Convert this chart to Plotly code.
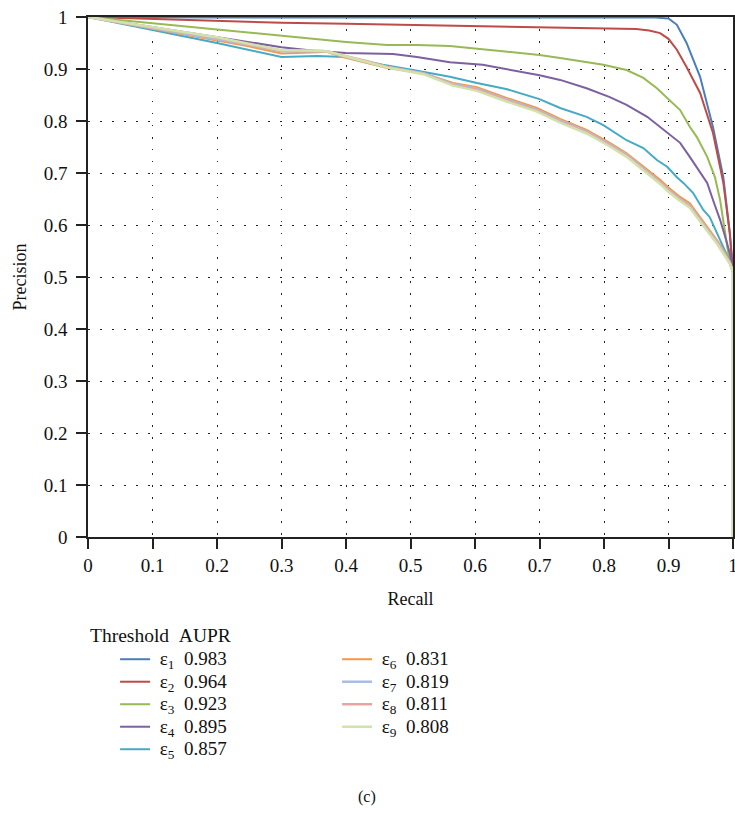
import plotly.graph_objects as go

# ---------------- data ----------------
labels = ["ε<sub>1</sub>\u20020.983", "ε<sub>2</sub>\u20020.964", "ε<sub>3</sub>\u20020.923",
          "ε<sub>4</sub>\u20020.895", "ε<sub>5</sub>\u20020.857", "ε<sub>6</sub>\u20020.831",
          "ε<sub>7</sub>\u20020.819", "ε<sub>8</sub>\u20020.811", "ε<sub>9</sub>\u20020.808"]

recall_e1 = [0, 0.1, 0.2, 0.3, 0.4, 0.5, 0.6, 0.7, 0.8, 0.88, 0.9, 0.913, 0.928, 0.949, 0.969, 0.985, 0.995, 1.0, 1.0]
precision_e1 = [1, 0.999, 0.999, 0.999, 0.999, 0.999, 0.999, 0.999, 0.999, 0.999, 0.997, 0.985, 0.95, 0.885, 0.788, 0.692, 0.585, 0.51, 0.0]

recall_e2 = [0, 0.1, 0.2, 0.3, 0.4, 0.5, 0.6, 0.7, 0.75, 0.8, 0.85, 0.87, 0.887, 0.9, 0.913, 0.928, 0.949, 0.969, 0.985, 0.995, 1.0, 1.0]
precision_e2 = [1, 0.996, 0.992, 0.989, 0.987, 0.985, 0.983, 0.981, 0.980, 0.979, 0.977, 0.974, 0.969, 0.958, 0.937, 0.904, 0.854, 0.777, 0.681, 0.585, 0.51, 0.0]

recall_e3 = [0, 0.1, 0.2, 0.251, 0.298, 0.35, 0.40, 0.464, 0.51, 0.561, 0.639, 0.7, 0.732, 0.77, 0.799, 0.835, 0.861, 0.882, 0.898, 0.918, 0.933, 0.944, 0.96, 0.972, 0.98, 0.988, 0.995, 1.0, 1.0]
precision_e3 = [1, 0.988, 0.976, 0.969, 0.963, 0.957, 0.952, 0.946, 0.946, 0.944, 0.935, 0.927, 0.921, 0.914, 0.908, 0.898, 0.883, 0.863, 0.844, 0.821, 0.789, 0.769, 0.731, 0.692, 0.648, 0.585, 0.527, 0.51, 0.0]

recall_e4 = [0, 0.1, 0.2, 0.251, 0.3, 0.35, 0.40, 0.473, 0.51, 0.561, 0.612, 0.639, 0.7, 0.732, 0.773, 0.809, 0.835, 0.867, 0.887, 0.899, 0.918, 0.933, 0.946, 0.96, 0.969, 0.98, 0.988, 0.995, 1.0, 1.0]
precision_e4 = [1, 0.981, 0.962, 0.952, 0.942, 0.935, 0.931, 0.929, 0.923, 0.913, 0.908, 0.902, 0.888, 0.879, 0.863, 0.846, 0.831, 0.808, 0.789, 0.777, 0.758, 0.731, 0.706, 0.681, 0.648, 0.61, 0.577, 0.546, 0.51, 0.0]

recall_e5 = [0, 0.1, 0.2, 0.3, 0.355, 0.40, 0.457, 0.504, 0.561, 0.603, 0.65, 0.7, 0.732, 0.773, 0.799, 0.835, 0.861, 0.882, 0.898, 0.913, 0.923, 0.938, 0.954, 0.964, 0.975, 0.985, 0.995, 1.0, 1.0]
precision_e5 = [1, 0.975, 0.950, 0.923, 0.925, 0.923, 0.908, 0.898, 0.885, 0.873, 0.861, 0.842, 0.825, 0.808, 0.792, 0.763, 0.748, 0.725, 0.712, 0.692, 0.681, 0.662, 0.629, 0.615, 0.585, 0.558, 0.53, 0.51, 0.0]

recall_e6 = [0, 0.1, 0.2, 0.251, 0.3, 0.355, 0.37, 0.395, 0.43, 0.464, 0.52, 0.566, 0.603, 0.65, 0.696, 0.732, 0.773, 0.809, 0.835, 0.861, 0.887, 0.899, 0.918, 0.933, 0.949, 0.964, 0.975, 0.985, 0.995, 1.0, 1.0]
precision_e6 = [1, 0.978, 0.955, 0.943, 0.930, 0.932, 0.933, 0.923, 0.913, 0.902, 0.892, 0.873, 0.865, 0.844, 0.825, 0.804, 0.783, 0.758, 0.738, 0.712, 0.687, 0.673, 0.654, 0.642, 0.615, 0.590, 0.571, 0.552, 0.53, 0.51, 0.0]

recall_e7 = [0, 0.1, 0.2, 0.251, 0.3, 0.355, 0.37, 0.395, 0.43, 0.464, 0.52, 0.566, 0.603, 0.65, 0.696, 0.732, 0.773, 0.809, 0.835, 0.861, 0.887, 0.899, 0.918, 0.933, 0.949, 0.964, 0.975, 0.985, 0.995, 1.0, 1.0]
precision_e7 = [1, 0.979, 0.958, 0.946, 0.934, 0.934, 0.934, 0.925, 0.915, 0.904, 0.892, 0.871, 0.862, 0.841, 0.822, 0.801, 0.780, 0.755, 0.735, 0.709, 0.683, 0.669, 0.650, 0.637, 0.611, 0.586, 0.568, 0.549, 0.528, 0.51, 0.0]

recall_e8 = [0, 0.1, 0.2, 0.251, 0.3, 0.355, 0.37, 0.395, 0.43, 0.464, 0.52, 0.566, 0.603, 0.65, 0.696, 0.732, 0.773, 0.809, 0.835, 0.861, 0.887, 0.899, 0.918, 0.933, 0.949, 0.964, 0.975, 0.985, 0.995, 1.0, 1.0]
precision_e8 = [1, 0.980, 0.960, 0.947, 0.935, 0.935, 0.934, 0.926, 0.916, 0.904, 0.891, 0.869, 0.860, 0.839, 0.820, 0.799, 0.778, 0.753, 0.733, 0.707, 0.681, 0.667, 0.648, 0.635, 0.609, 0.584, 0.566, 0.547, 0.527, 0.51, 0.0]

recall_e9 = [0, 0.1, 0.2, 0.251, 0.3, 0.355, 0.37, 0.395, 0.43, 0.464, 0.52, 0.566, 0.603, 0.65, 0.696, 0.732, 0.773, 0.809, 0.835, 0.861, 0.887, 0.899, 0.918, 0.933, 0.949, 0.964, 0.975, 0.985, 0.995, 1.0, 1.0]
precision_e9 = [1, 0.980, 0.961, 0.948, 0.936, 0.935, 0.934, 0.926, 0.915, 0.903, 0.890, 0.868, 0.858, 0.837, 0.818, 0.797, 0.776, 0.751, 0.731, 0.705, 0.679, 0.665, 0.646, 0.633, 0.607, 0.582, 0.564, 0.545, 0.526, 0.51, 0.0]

tick_vals = [0, 0.1, 0.2, 0.3, 0.4, 0.5, 0.6, 0.7, 0.8, 0.9, 1]
tick_text = ["0", "0.1", "0.2", "0.3", "0.4", "0.5", "0.6", "0.7", "0.8", "0.9", "1"]

# ---------------- styling ----------------
colors = ["#4a7ebb", "#be4b48", "#98b954", "#7d60a0", "#46aac5",
          "#f79646", "#a9bfe0", "#eaa3a3", "#d2e2ab"]
widths = [2, 2, 2, 2, 2, 2, 2.5, 2.5, 2.5]
legend_rank = [1, 3, 5, 7, 9, 2, 4, 6, 8]

recalls = [recall_e1, recall_e2, recall_e3, recall_e4, recall_e5,
           recall_e6, recall_e7, recall_e8, recall_e9]
precisions = [precision_e1, precision_e2, precision_e3, precision_e4, precision_e5,
              precision_e6, precision_e7, precision_e8, precision_e9]

FONT = "Liberation Serif"
TXT = "#111"

fig = go.Figure()
for i in range(9):
    fig.add_trace(go.Scatter(
        x=recalls[i], y=precisions[i], mode="lines",
        name='<span style="font-size:19px">\u2005' + labels[i] + '</span>',
        line=dict(color=colors[i], width=widths[i]),
        legendrank=legend_rank[i],
    ))

axis_common = dict(
    range=[0, 1], tickvals=tick_vals, ticktext=tick_text,
    showline=True, linecolor="#222", linewidth=1.5, mirror=True,
    ticks="outside", ticklen=10, tickwidth=1.5, tickcolor="#222",
    showgrid=True, gridcolor="#222", gridwidth=1, griddash="1.5px,10.5px",
    zeroline=False, tickfont=dict(family=FONT, size=19, color=TXT),
    automargin=False, ticklabeloverflow="allow",
)

fig.update_xaxes(**axis_common,
                 title=dict(text="Recall", font=dict(family=FONT, size=18, color=TXT), standoff=18))
fig.update_yaxes(**axis_common, ticklabelstandoff=5,
                 title=dict(text="Precision", font=dict(family=FONT, size=18, color=TXT), standoff=12))

fig.add_annotation(text="Threshold\u2002AUPR", xref="paper", yref="paper",
                   x=0, y=-0.1885, xanchor="left", yanchor="middle", showarrow=False,
                   font=dict(family=FONT, size=19.5, color=TXT))
fig.add_annotation(text="(c)", xref="paper", yref="paper",
                   x=0.4326, y=-0.5, xanchor="center", yanchor="middle", showarrow=False,
                   font=dict(family=FONT, size=16, color=TXT))

fig.update_layout(
    width=735, height=816,
    margin=dict(l=88, r=2, t=17, b=279),
    paper_bgcolor="white", plot_bgcolor="white",
    font=dict(family=FONT, size=17, color=TXT),
    showlegend=True,
    legend=dict(orientation="h", x=0.042, y=-0.2038, xanchor="left", yanchor="top",
                entrywidth=177, entrywidthmode="pixels",
                font=dict(family=FONT, size=15, color=TXT),
                bgcolor="rgba(0,0,0,0)", tracegroupgap=0),
)

fig.write_html("out.html", config={"displayModeBar": False},
               post_script="document.body.style.margin='0';document.body.style.overflow='hidden';")
